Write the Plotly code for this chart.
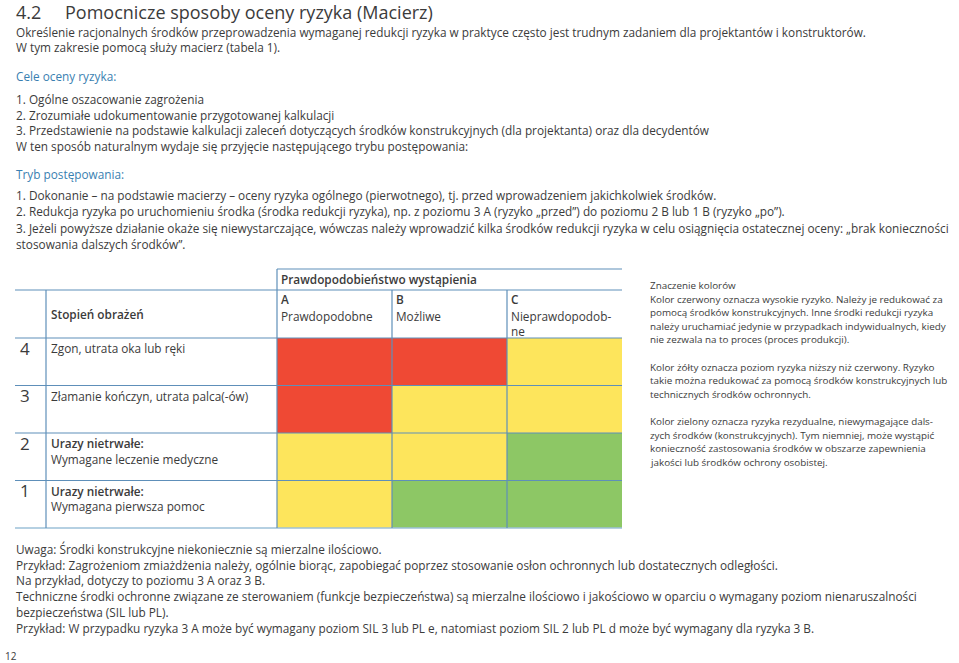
import plotly.graph_objects as go

W, H = 959, 663

# ---- data ----
likelihood_codes = ["A", "B", "C"]
likelihood_names = ["Prawdopodobne", "Możliwe", "Nieprawdopodob-<br>ne"]
severity_levels = [1, 2, 3, 4]
severity_bold = ["Urazy nietrwałe:", "Urazy nietrwałe:", "", ""]
severity_text = ["Wymagana pierwsza pomoc", "Wymagane leczenie medyczne",
                 "Złamanie kończyn, utrata palca(-ów)", "Zgon, utrata oka lub ręki"]
# risk level: 1 = green, 2 = yellow, 3 = red ; rows = severity 1..4, cols = A..C
risk = [
    [2, 1, 1],
    [2, 2, 1],
    [3, 2, 2],
    [3, 3, 2],
]
RED, YEL, GRN = "#EF4934", "#FDE55C", "#8DC765"
TXT = "#3b3b3b"
BLUE = "#3A7FB1"
LINE = "#5E8FB9"
FONT = "Open Sans"

intro_lines = [
    "Określenie racjonalnych środków przeprowadzenia wymaganej redukcji ryzyka w praktyce często jest trudnym zadaniem dla projektantów i konstruktorów.",
    "W tym zakresie pomocą służy macierz (tabela 1).",
]
goals_head = "Cele oceny ryzyka:"
goals_lines = [
    "1. Ogólne oszacowanie zagrożenia",
    "2. Zrozumiałe udokumentowanie przygotowanej kalkulacji",
    "3. Przedstawienie na podstawie kalkulacji zaleceń dotyczących środków konstrukcyjnych (dla projektanta) oraz dla decydentów",
    "W ten sposób naturalnym wydaje się przyjęcie następującego trybu postępowania:",
]
mode_head = "Tryb postępowania:"
mode_lines = [
    "1. Dokonanie – na podstawie macierzy – oceny ryzyka ogólnego (pierwotnego), tj. przed wprowadzeniem jakichkolwiek środków.",
    "2. Redukcja ryzyka po uruchomieniu środka (środka redukcji ryzyka), np. z poziomu 3 A (ryzyko „przed”) do poziomu 2 B lub 1 B (ryzyko „po”).",
    "3. Jeżeli powyższe działanie okaże się niewystarczające, wówczas należy wprowadzić kilka środków redukcji ryzyka w celu osiągnięcia ostatecznej oceny: „brak konieczności",
    "stosowania dalszych środków”.",
]
legend_lines = [
    "Znaczenie kolorów",
    "Kolor czerwony oznacza wysokie ryzyko. Należy je redukować za",
    "pomocą środków konstrukcyjnych. Inne środki redukcji ryzyka",
    "należy uruchamiać jedynie w przypadkach indywidualnych, kiedy",
    "nie zezwala na to proces (proces produkcji).",
    "",
    "Kolor żółty oznacza poziom ryzyka niższy niż czerwony. Ryzyko",
    "takie można redukować za pomocą środków konstrukcyjnych lub",
    "technicznych środków ochronnych.",
    "",
    "Kolor zielony oznacza ryzyka rezydualne, niewymagające dals-",
    "zych środków (konstrukcyjnych). Tym niemniej, może wystąpić",
    "konieczność zastosowania środków w obszarze zapewnienia",
    "jakości lub środków ochrony osobistej.",
]
note_lines = [
    "Uwaga: Środki konstrukcyjne niekoniecznie są mierzalne ilościowo.",
    "Przykład: Zagrożeniom zmiażdżenia należy, ogólnie biorąc, zapobiegać poprzez stosowanie osłon ochronnych lub dostatecznych odległości.",
    "Na przykład, dotyczy to poziomu 3 A oraz 3 B.",
    "Techniczne środki ochronne związane ze sterowaniem (funkcje bezpieczeństwa) są mierzalne ilościowo i jakościowo w oparciu o wymagany poziom nienaruszalności",
    "bezpieczeństwa (SIL lub PL).",
    "Przykład: W przypadku ryzyka 3 A może być wymagany poziom SIL 3 lub PL e, natomiast poziom SIL 2 lub PL d może być wymagany dla ryzyka 3 B.",
]

# ---- layout geometry (page pixels) ----
MX0, MX1 = 277, 622
MY0, MY1 = 338, 528
px = lambda x: x / W
py = lambda y: 1 - y / H

BODY = 11.8

fig = go.Figure()
fig.add_trace(go.Heatmap(
    z=risk, x=likelihood_codes, y=severity_levels,
    colorscale=[[0, GRN], [0.3333, GRN], [0.3333, YEL], [0.6667, YEL], [0.6667, RED], [1, RED]],
    zmin=0.5, zmax=3.5, showscale=False, hoverinfo="skip",
))

anns = []
def T(x, y, text, size=BODY, color=TXT, weight=None, anchor="left"):
    f = dict(family=FONT, size=size, color=color)
    if weight:
        f["weight"] = weight
    anns.append(dict(x=px(x), y=py(y), xref="paper", yref="paper", text=text,
                     showarrow=False, xanchor=anchor, yanchor="middle", font=f))

T(14, 12, "4.2", size=18)
T(63, 12, "Pomocnicze sposoby oceny ryzyka (Macierz)", size=18)
for y, t in zip([32, 47], intro_lines):
    T(14, y, t)
T(14, 76, goals_head, color=BLUE)
for y, t in zip([99, 115, 130, 146], goals_lines):
    T(14, y, t)
T(14, 174, mode_head, color=BLUE)
for y, t in zip([195, 211, 228, 244], mode_lines):
    T(14, y, t)
for i, t in enumerate(legend_lines):
    if t:
        T(648, 285 + i * 13.6, t, size=9.85)
for y, t in zip([549, 565, 580, 596, 612, 628], note_lines):
    T(14, y, t)
T(3, 656, "12", size=10)

# matrix header texts
T(279, 279, "Prawdopodobieństwo wystąpienia", weight=600)
T(49, 314, "Stopień obrażeń", weight=600)
col_x = [279, 394, 509]
for cx, code, name in zip(col_x, likelihood_codes, likelihood_names):
    T(cx, 299, code, weight=600)
    anns.append(dict(x=px(cx), y=py(306), xref="paper", yref="paper", text=name,
                     showarrow=False, xanchor="left", yanchor="top", align="left",
                     font=dict(family=FONT, size=BODY, color=TXT)))
row_h = (MY1 - MY0) / 4
for i, lvl in enumerate(severity_levels):
    top = MY1 - (i + 1) * row_h
    T(18, top + 10, str(lvl), size=17)
    if severity_bold[i]:
        T(49, top + 10, severity_bold[i], weight=600)
        T(49, top + 26, severity_text[i])
    else:
        T(49, top + 10, severity_text[i])

# table lines
shapes = []
def L(x0, y0, x1, y1, color=LINE, w=1.2):
    shapes.append(dict(type="line", xref="paper", yref="paper",
                       x0=px(x0), y0=py(y0), x1=px(x1), y1=py(y1),
                       line=dict(color=color, width=w)))
L(277, 269, 622, 269)
L(15, 290, 622, 290)
L(15, MY0, 622, MY0)
for i in range(1, 4):
    L(15, MY0 + i * row_h, 622, MY0 + i * row_h)
L(15, MY1, 622, MY1, color="#9cc0d8", w=1.5)
L(46, 290, 46, MY1)
L(277, 269, 277, MY1)
L(392, 290, 392, MY1)
L(507, 290, 507, MY1)

fig.update_layout(
    width=W, height=H, margin=dict(l=0, r=0, t=0, b=0),
    paper_bgcolor="white", plot_bgcolor="white",
    xaxis=dict(domain=[px(MX0), px(MX1)], range=[-0.5, 2.5], visible=False, fixedrange=True),
    yaxis=dict(domain=[py(MY1), py(MY0)], range=[0.5, 4.5], visible=False, fixedrange=True),
    annotations=anns, shapes=shapes, showlegend=False,
)
fig.write_html("out.html", config={"displayModeBar": False},
               post_script="document.body.style.margin='0';document.body.style.overflow='hidden';")
